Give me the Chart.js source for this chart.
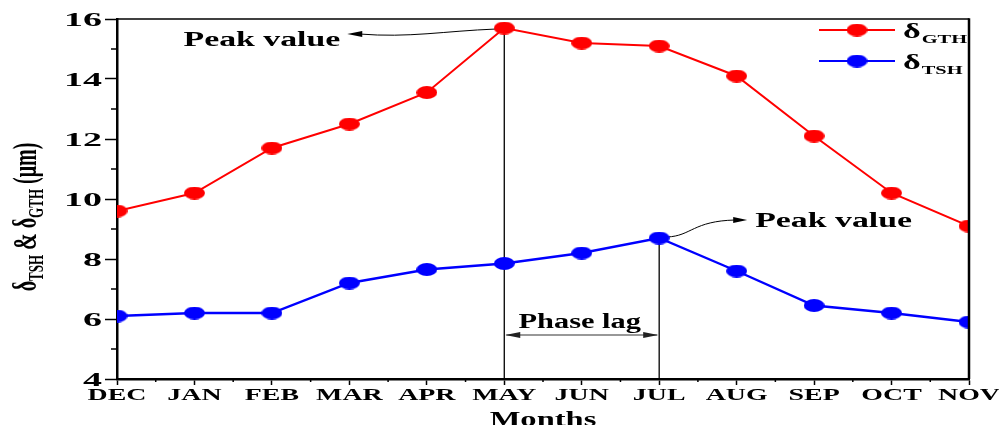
<!DOCTYPE html>
<html>
<head>
<meta charset="utf-8">
<script src="https://cdn.jsdelivr.net/npm/chart.js@4.4.1/dist/chart.umd.min.js"></script>
<style>
  html, body { margin: 0; padding: 0; background: #fff; }
  canvas { display: block; }
</style>
</head>
<body>
<canvas id="chart" width="999" height="425"></canvas>
<script>
// Monthly thickness values (µm)
const months = ['DEC', 'JAN', 'FEB', 'MAR', 'APR', 'MAY', 'JUN', 'JUL', 'AUG', 'SEP', 'OCT', 'NOV'];
const gthValues = [9.6, 10.2, 11.7, 12.5, 13.55, 15.7, 15.2, 15.1, 14.1, 12.1, 10.2, 9.1];
const tshValues = [6.1, 6.2, 6.2, 7.2, 7.65, 7.85, 8.2, 8.7, 7.6, 6.45, 6.2, 5.9];
const yTickValues = [4, 6, 8, 10, 12, 14, 16];
const seriesNames = [{ main: 'δ', sub: 'GTH' }, { main: 'δ', sub: 'TSH' }];
const peakLabel = 'Peak value';
const lagLabel = 'Phase lag';
const xTitle = 'Months';
const yTitleParts = [
  { t: 'δ', sub: false }, { t: 'TSH', sub: true }, { t: ' & ', sub: false },
  { t: 'δ', sub: false }, { t: 'GTH', sub: true }, { t: ' (μm)', sub: false }
];

const RED = '#ff0000';
const BLUE = '#0000ff';
const SERIF = "'Liberation Serif', 'Times New Roman', serif";

function ellipseDot(color, w, h) {
  const c = document.createElement('canvas');
  c.width = w; c.height = h;
  const g = c.getContext('2d');
  g.fillStyle = color;
  g.beginPath();
  g.ellipse(w / 2, h / 2, w / 2, h / 2, 0, 0, Math.PI * 2);
  g.fill();
  return c;
}
const redDot = ellipseDot(RED, 21, 13);
const blueDot = ellipseDot(BLUE, 21, 13);

// text drawn with a horizontal stretch factor
function wideText(ctx, text, x, y, sx, align) {
  const w = ctx.measureText(text).width * sx;
  let x0 = x;
  if (align === 'center') x0 = x - w / 2;
  else if (align === 'right') x0 = x - w;
  ctx.save();
  ctx.translate(x0, y);
  ctx.scale(sx, 1);
  ctx.textAlign = 'left';
  ctx.fillText(text, 0, 0);
  ctx.restore();
  return w;
}

function arrowHead(ctx, tipX, tipY, dir, len, half) {
  ctx.beginPath();
  ctx.moveTo(tipX, tipY);
  ctx.lineTo(tipX - dir * len, tipY - half);
  ctx.lineTo(tipX - dir * len, tipY + half);
  ctx.closePath();
  ctx.fill();
}

const annotations = {
  id: 'annotations',
  beforeDatasetsDraw(chart) {
    const { ctx, chartArea, scales: { x, y } } = chart;
    const iG = gthValues.indexOf(Math.max(...gthValues));
    const iT = tshValues.indexOf(Math.max(...tshValues));
    const xG = x.getPixelForValue(iG), yG = y.getPixelForValue(gthValues[iG]);
    const xT = x.getPixelForValue(iT), yT = y.getPixelForValue(tshValues[iT]);
    const base = chartArea.bottom;

    ctx.save();
    ctx.strokeStyle = '#000';
    ctx.fillStyle = '#000';
    ctx.lineWidth = 1.3;
    // drop lines from both peaks
    ctx.beginPath();
    ctx.moveTo(xG, yG); ctx.lineTo(xG, base);
    ctx.moveTo(xT, yT); ctx.lineTo(xT, base);
    ctx.stroke();

    // phase lag dimension arrow
    const lagY = base - 44;
    ctx.strokeStyle = '#333';
    ctx.fillStyle = '#222';
    ctx.lineWidth = 1.2;
    ctx.beginPath();
    ctx.moveTo(xG + 2, lagY); ctx.lineTo(xT - 2, lagY);
    ctx.stroke();
    arrowHead(ctx, xG + 1, lagY, -1, 15, 3);
    arrowHead(ctx, xT - 1, lagY, 1, 15, 3);

    // curved leader to the first peak label
    ctx.strokeStyle = '#000';
    ctx.fillStyle = '#000';
    ctx.lineWidth = 1;
    ctx.beginPath();
    ctx.moveTo(xG - 8, yG + 1);
    ctx.bezierCurveTo(xG - 60, yG + 3, xG - 95, yG + 10, xG - 145, yG + 6);
    ctx.stroke();
    arrowHead(ctx, xG - 157, yG + 6, -1, 15, 3);

    // curved leader to the second peak label
    ctx.beginPath();
    ctx.moveTo(xT + 8, yT - 1);
    ctx.bezierCurveTo(xT + 32, yT - 2, xT + 34, yT - 17, xT + 76, yT - 18);
    ctx.stroke();
    arrowHead(ctx, xT + 88, yT - 18, 1, 14, 3);

    // labels
    ctx.font = 'bold 20px ' + SERIF;
    ctx.textBaseline = 'alphabetic';
    wideText(ctx, peakLabel, xG - 164, yG + 18, 1.69, 'right');
    wideText(ctx, peakLabel, xT + 96, yT - 11, 1.69, 'left');
    wideText(ctx, lagLabel, (xG + xT) / 2 - 2, lagY - 7, 1.52, 'center');
    ctx.restore();
  },
  afterDraw(chart) {
    const { ctx, chartArea: a, scales: { x, y } } = chart;
    ctx.save();
    ctx.strokeStyle = '#000';
    ctx.fillStyle = '#000';

    // frame: top and right edges
    ctx.lineWidth = 1.5;
    ctx.beginPath();
    ctx.moveTo(a.left, a.top); ctx.lineTo(a.right, a.top);
    ctx.stroke();
    ctx.lineWidth = 2.5;
    ctx.beginPath();
    ctx.moveTo(a.right, a.top - 0.75); ctx.lineTo(a.right, a.bottom);
    ctx.stroke();

    // minor ticks
    ctx.lineWidth = 1.5;
    ctx.beginPath();
    for (let v = 5; v < 16; v += 2) {
      const py = y.getPixelForValue(v);
      ctx.moveTo(a.left - 6, py); ctx.lineTo(a.left, py);
    }
    for (let i = 0; i < months.length - 1; i++) {
      const px = (x.getPixelForTick(i) + x.getPixelForTick(i + 1)) / 2;
      ctx.moveTo(px, a.bottom); ctx.lineTo(px, a.bottom + 3);
    }
    ctx.stroke();

    // y tick labels
    ctx.font = 'bold 19px ' + SERIF;
    ctx.textBaseline = 'alphabetic';
    yTickValues.forEach(v => {
      wideText(ctx, String(v), a.left - 15, y.getPixelForValue(v) + 6.5, 2.0, 'right');
    });

    // x tick labels
    ctx.font = 'bold 17px ' + SERIF;
    x.ticks.forEach((t, i) => {
      wideText(ctx, x.getLabelForValue(t.value), x.getPixelForTick(i), a.bottom + 21, 1.64, 'center');
    });

    // x axis title
    ctx.font = 'bold 21px ' + SERIF;
    wideText(ctx, xTitle, (a.left + a.right) / 2, a.bottom + 47, 1.55, 'center');

    // y axis title, rotated, with subscripts
    ctx.save();
    const mainFont = 'bold 20px ' + SERIF;
    const subFont = 'bold 13px ' + SERIF;
    let total = 0;
    yTitleParts.forEach(p => {
      ctx.font = p.sub ? subFont : mainFont;
      total += ctx.measureText(p.t).width;
    });
    ctx.translate(36, (a.top + a.bottom) / 2 + 18);
    ctx.rotate(-Math.PI / 2);
    ctx.scale(1, 1.65);
    let cx = -total / 2;
    yTitleParts.forEach(p => {
      ctx.font = p.sub ? subFont : mainFont;
      ctx.fillText(p.t, cx, p.sub ? 4.5 : 0);
      cx += ctx.measureText(p.t).width;
    });
    ctx.restore();

    // legend
    const rows = [
      { color: RED, dot: redDot, name: seriesNames[0], y: 30 },
      { color: BLUE, dot: blueDot, name: seriesNames[1], y: 61 }
    ];
    rows.forEach(r => {
      ctx.strokeStyle = r.color;
      ctx.lineWidth = 2;
      ctx.beginPath();
      ctx.moveTo(819, r.y); ctx.lineTo(895, r.y);
      ctx.stroke();
      ctx.drawImage(r.dot, 857 - r.dot.width / 2, r.y - r.dot.height / 2);
      ctx.fillStyle = '#000';
      ctx.font = 'bold 22px ' + SERIF;
      const w = wideText(ctx, r.name.main, 903, r.y + 8, 1.55, 'left');
      ctx.font = 'bold 12px ' + SERIF;
      wideText(ctx, r.name.sub, 903 + w + 1, r.y + 13, 1.7, 'left');
    });
    ctx.restore();
  }
};

new Chart(document.getElementById('chart'), {
  type: 'line',
  data: {
    labels: months,
    datasets: [
      {
        label: 'GTH', data: gthValues,
        borderColor: RED, backgroundColor: RED, borderWidth: 2,
        pointStyle: redDot, pointRadius: 7, clip: 0, tension: 0
      },
      {
        label: 'TSH', data: tshValues,
        borderColor: BLUE, backgroundColor: BLUE, borderWidth: 2.4,
        pointStyle: blueDot, pointRadius: 7, clip: 0, tension: 0
      }
    ]
  },
  options: {
    responsive: false,
    animation: false,
    devicePixelRatio: 1,
    layout: { padding: { top: 19, right: 30, left: 0, bottom: 0 } },
    plugins: { legend: { display: false }, tooltip: { enabled: false } },
    scales: {
      x: {
        type: 'category',
        offset: false,
        ticks: { display: false },
        grid: { drawOnChartArea: false, drawTicks: true, tickLength: 6, tickWidth: 1.5, tickColor: '#000', offset: false },
        border: { display: true, color: '#000', width: 2.5 },
        afterFit(s) { s.height = 46; }
      },
      y: {
        min: 4, max: 16,
        ticks: { display: false, stepSize: 2 },
        grid: { drawOnChartArea: false, drawTicks: true, tickLength: 12, tickWidth: 1.5, tickColor: '#000' },
        border: { display: true, color: '#000', width: 2.5 },
        afterFit(s) { s.width = 117; }
      }
    }
  },
  plugins: [annotations]
});
</script>
</body>
</html>
